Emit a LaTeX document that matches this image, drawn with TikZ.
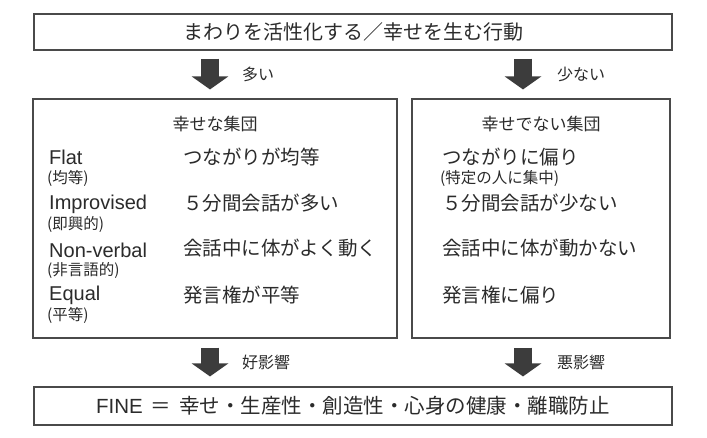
\documentclass[tikz,border=0pt]{standalone}
\usepackage{fontspec}
\setmainfont{Noto Sans CJK JP}
\newfontfamily\latinfont{Liberation Sans}
\usetikzlibrary{arrows.meta}

\definecolor{inkgray}{HTML}{2B2B2B}
\definecolor{framegray}{HTML}{4A4A4A}
\definecolor{arrowgray}{HTML}{3C3C3C}

\begin{document}
\begin{tikzpicture}[x=1pt, y=-1pt,
    frame/.style = {draw=framegray, line width=1.1pt, inner sep=0pt},
    bigarrow/.style = {arrowgray, line width=18pt,
      -{Triangle[width=36pt, length=13pt]}},
    jp/.style = {anchor=west, inner sep=0pt, text=inkgray,
      font=\fontsize{19.5}{20}\selectfont},
    latin/.style = {anchor=west, inner sep=0pt, text=inkgray,
      font=\latinfont\fontsize{20}{20}\selectfont},
    sub/.style = {anchor=west, inner sep=0pt, text=inkgray,
      font=\fontsize{15.5}{16}\selectfont},
    head/.style = {inner sep=0pt, text=inkgray,
      font=\fontsize{17}{18}\selectfont},
    tag/.style = {inner sep=0pt, text=inkgray,
      font=\fontsize{16}{17}\selectfont}
  ]
  \fill [white] (0, 0) rectangle (707, 438);

  % boxes
  % -----
  \node [frame, minimum width=638pt, minimum height=36pt,
    font=\fontsize{20}{20}\selectfont, text=inkgray]
    (action) at (353, 32) {まわりを活性化する／幸せを生む行動};
  \node [frame, minimum width=364pt, minimum height=239pt]
    (happy) at (215, 218.5) {};
  \node [frame, minimum width=258pt, minimum height=239pt]
    (unhappy) at (541, 218.5) {};
  \node [frame, minimum width=638pt, minimum height=38pt,
    font=\fontsize{20.5}{21}\selectfont, text=inkgray]
    (fine) at (353, 406)
    {{\latinfont FINE}\, ＝\, 幸せ・生産性・創造性・心身の健康・離職防止};

  % arrows
  % ------
  \coordinate (leftx) at (210, 0);
  \coordinate (rightx) at (523, 0);

  \draw [bigarrow, shorten <=8pt, shorten >=9pt]
    (action.south -| leftx) -- (happy.north -| leftx)
    node [tag, midway, right=23pt] (more) {多い};
  \draw [bigarrow, shorten <=8pt, shorten >=9pt]
    (action.south -| rightx) -- (unhappy.north -| rightx)
    node [tag, midway, right=25pt] (less) {少ない};
  \draw [bigarrow, shorten <=9pt, shorten >=10pt]
    (happy.south -| leftx) -- (fine.north -| leftx)
    node [tag, midway, right=23pt] (good) {好影響};
  \draw [bigarrow, shorten <=9pt, shorten >=10pt]
    (unhappy.south -| rightx) -- (fine.north -| rightx)
    node [tag, midway, right=25pt] (bad) {悪影響};

  % happy group
  % -----------
  \node [head] (happyhead) at (215, 124) {幸せな集団};

  \node [latin] (flat) at (49, 157) {Flat};
  \node [sub] (flatsub) at (47, 178) {(均等)};
  \node [jp] (flatjp) at (183, 157) {つながりが均等};

  \node [latin] (impro) at (49, 204) {Improvised};
  \node [sub] (improsub) at (47, 224) {(即興的)};
  \node [jp] (improjp) at (183, 203) {５分間会話が多い};

  \node [latin] (nonverb) at (49, 250) {Non-verbal};
  \node [sub] (nonverbsub) at (47, 270) {(非言語的)};
  \node [jp] (nonverbjp) at (183, 248) {会話中に体がよく動く};

  \node [latin] (equal) at (49, 295) {Equal};
  \node [sub] (equalsub) at (47, 315) {(平等)};
  \node [jp] (equaljp) at (183, 295) {発言権が平等};

  % unhappy group
  % -------------
  \node [head] (unhappyhead) at (541, 124) {幸せでない集団};

  \node [jp] (biasjp) at (442, 157) {つながりに偏り};
  \node [sub] (biassub) at (440, 178) {(特定の人に集中)};
  \node [jp] (fewjp) at (442, 203) {５分間会話が少ない};
  \node [jp] (stilljp) at (442, 248) {会話中に体が動かない};
  \node [jp] (voicejp) at (442, 295) {発言権に偏り};
\end{tikzpicture}
\end{document}
